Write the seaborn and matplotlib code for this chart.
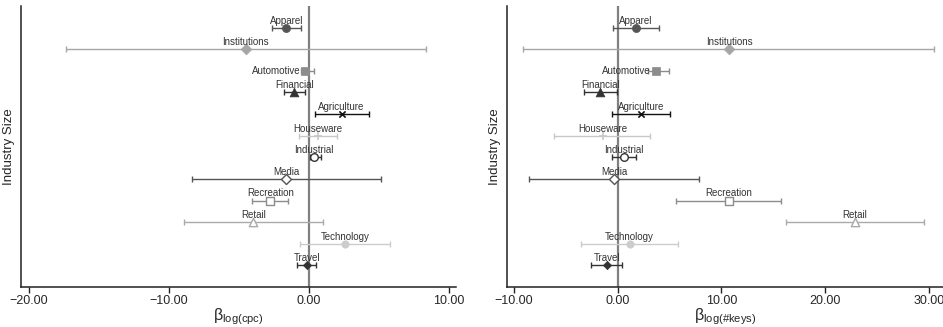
import matplotlib
matplotlib.use("Agg")
import matplotlib.pyplot as plt
import seaborn as sns
import pandas as pd
from matplotlib.ticker import FuncFormatter

# Industries, top to bottom
industries = ["Apparel", "Institutions", "Automotive", "Financial", "Agriculture",
              "Houseware", "Industrial", "Media", "Recreation", "Retail",
              "Technology", "Travel"]

# Coefficient estimates and confidence bounds: log(cpc)
cpc_beta = [-1.62, -4.52, -0.26, -1.05, 2.33, 0.64, 0.36, -1.62, -2.76, -3.98, 2.57, -0.17]
cpc_low = [-2.62, -17.38, -0.55, -1.76, 0.40, -0.71, 0.05, -8.38, -4.07, -8.95, -0.64, -0.88]
cpc_high = [-0.55, 8.36, 0.33, -0.31, 4.29, 1.98, 0.83, 5.17, -1.48, 1.02, 5.81, 0.50]

# Coefficient estimates and confidence bounds: log(#keys)
keys_beta = [1.77, 10.77, 3.69, -1.68, 2.25, -1.45, 0.58, -0.36, 10.70, 22.85, 1.15, -1.06]
keys_low = [-0.42, -9.10, 2.90, -3.28, -0.55, -6.11, -0.55, -8.52, 5.59, 16.23, -3.54, -2.60]
keys_high = [3.98, 30.53, 4.95, -0.03, 5.08, 3.15, 1.73, 7.81, 15.78, 29.51, 5.78, 0.45]

x_ticks_cpc = [-20, -10, 0, 10]
x_ticks_keys = [-10, 0, 10, 20, 30]

# Marker style per industry: (marker, colour, filled, size)
styles = {
    "Apparel": ("o", "#555555", True, 34),
    "Institutions": ("D", "#a6a6a6", True, 30),
    "Automotive": ("s", "#8c8c8c", True, 34),
    "Financial": ("^", "#333333", True, 40),
    "Agriculture": ("x", "#111111", False, 20),
    "Houseware": ("+", "#c8c8c8", False, 34),
    "Industrial": ("o", "#333333", "open", 30),
    "Media": ("D", "#555555", "open", 26),
    "Recreation": ("s", "#8c8c8c", "open", 30),
    "Retail": ("^", "#aaaaaa", "open", 36),
    "Technology": ("o", "#cccccc", True, 28),
    "Travel": ("D", "#333333", True, 18),
}
# Labels drawn beside the marker instead of above it
side_labels = {"Automotive"}

sns.set_style("white")
plt.rcParams["font.family"] = ["Liberation Sans", "DejaVu Sans"]
plt.rcParams["mathtext.fontset"] = "custom"
plt.rcParams["mathtext.rm"] = "Liberation Sans"
plt.rcParams["mathtext.it"] = "Liberation Sans:italic"

fig = plt.figure(figsize=(9.43, 3.27), dpi=100)
ax1 = fig.add_axes([0.0223, 0.1223, 0.4613, 0.8594])
ax2 = fig.add_axes([0.5373, 0.1223, 0.4624, 0.8594])

fmt = FuncFormatter(lambda v, _: f"{v:.2f}".replace("-", "\u2212"))


def draw_panel(ax, beta, low, high, xlim, ticks, xlabel):
    df = pd.DataFrame({"industry": industries, "beta": beta, "low": low,
                       "high": high, "row": list(range(len(industries)))})
    ax.axvline(0, color="#808080", lw=1.6, zorder=1.5)
    for _, r in df.iterrows():
        marker, col, filled, size = styles[r["industry"]]
        ax.errorbar(r["beta"], r["row"],
                    xerr=[[r["beta"] - r["low"]], [r["high"] - r["beta"]]],
                    fmt="none", ecolor=col, elinewidth=1.0, capsize=2.2,
                    capthick=1.0, zorder=2)
        sub = df[df["industry"] == r["industry"]]
        if filled == "open":
            sns.scatterplot(data=sub, x="beta", y="row", ax=ax, marker=marker,
                            s=size, color=col, facecolor="white", edgecolor=col,
                            linewidth=1.0, zorder=3, legend=False)
        elif filled:
            sns.scatterplot(data=sub, x="beta", y="row", ax=ax, marker=marker,
                            s=size, color=col, edgecolor=col, linewidth=0.5,
                            zorder=3, legend=False)
        else:
            sns.scatterplot(data=sub, x="beta", y="row", ax=ax, marker=marker,
                            s=size, color=col, linewidth=1.2, zorder=3,
                            legend=False)
        if r["industry"] in side_labels:
            ax.annotate(r["industry"], (r["beta"], r["row"]), xytext=(-3.5, 0),
                        textcoords="offset points", ha="right", va="center",
                        fontsize=7, color="#333333", zorder=4)
        else:
            ax.annotate(r["industry"], (r["beta"], r["row"]), xytext=(0, 1.5),
                        textcoords="offset points", ha="center", va="bottom",
                        fontsize=7, color="#333333", zorder=4)
    ax.set_xlim(*xlim)
    ax.set_ylim(12, -1)
    ax.set_xticks(ticks)
    ax.xaxis.set_major_formatter(fmt)
    ax.set_yticks([])
    ax.tick_params(axis="x", bottom=True, direction="out", length=4,
                   width=1, color="#222222", labelsize=9, pad=2)
    for side in ("top", "right"):
        ax.spines[side].set_visible(False)
    for side in ("left", "bottom"):
        ax.spines[side].set_color("#222222")
        ax.spines[side].set_linewidth(1.1)
    ax.set_ylabel("Industry Size", fontsize=9.5, labelpad=4)
    ax.set_xlabel(xlabel, fontsize=11.5, labelpad=-1)


draw_panel(ax1, cpc_beta, cpc_low, cpc_high, (-20.57, 10.5), x_ticks_cpc,
           r"$\mathregular{\beta}_{\mathrm{log(cpc)}}$")
draw_panel(ax2, keys_beta, keys_low, keys_high, (-10.70, 31.34), x_ticks_keys,
           r"$\mathregular{\beta}_{\mathrm{log(}\#\mathrm{keys)}}$")

fig.savefig("out.png", dpi=100)
